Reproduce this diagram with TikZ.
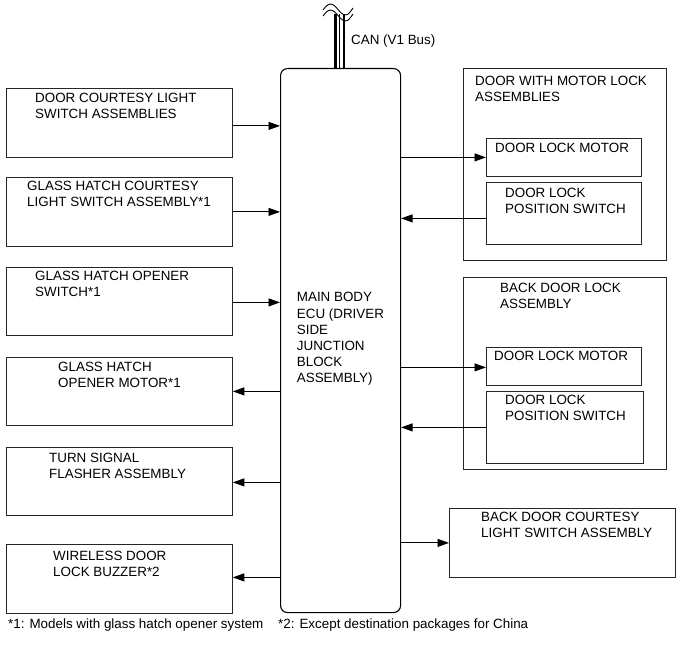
\documentclass[tikz,border=0pt]{standalone}
\usepackage{fontspec}
\setmainfont{Liberation Sans}
\usetikzlibrary{arrows.meta}
\tikzset{
  box/.style={draw=black!85, line width=0.8pt, inner sep=0pt, anchor=north west},
  lbl/.style={anchor=north west, inner sep=0pt, align=left, font=\fontsize{13.4}{16.2}\selectfont},
  arr/.style={line width=0.9pt, -{Triangle[length=11.5pt,width=8pt]}},
  bus/.style={line width=2.6pt},
}
\begin{document}
\begin{tikzpicture}[x=1pt,y=-1pt]
\useasboundingbox (0,0) rectangle (690,660);
% left boxes
\node[box, minimum width=226pt, minimum height=69pt] (b1) at (6,88) {};
\node[box, minimum width=226pt, minimum height=69pt] (b2) at (6,177) {};
\node[box, minimum width=226pt, minimum height=68pt] (b3) at (6,267) {};
\node[box, minimum width=226pt, minimum height=68pt] (b4) at (6,357) {};
\node[box, minimum width=226pt, minimum height=68pt] (b5) at (6,447) {};
\node[box, minimum width=226pt, minimum height=69pt] (b6) at (6,544) {};
\node[lbl] (t1) at (35,92.7) {DOOR COURTESY LIGHT\\SWITCH ASSEMBLIES};
\node[lbl] (t2) at (27,181) {GLASS HATCH COURTESY\\LIGHT SWITCH ASSEMBLY*1};
\node[lbl] (t3) at (35,270.7) {GLASS HATCH OPENER\\SWITCH*1};
\node[lbl] (t4) at (58,361.7) {GLASS HATCH\\OPENER MOTOR*1};
\node[lbl] (t5) at (49,452.7) {TURN SIGNAL\\FLASHER ASSEMBLY};
\node[lbl] (t6) at (53,550.7) {WIRELESS DOOR\\LOCK BUZZER*2};
% ECU
\node[box, draw=black, line width=1.1pt, rounded corners=7pt, minimum width=120pt, minimum height=544pt] (ecu) at (280,68) {};
\node[lbl] (tecu) at (296.7,292.3) {MAIN BODY\\ECU (DRIVER\\SIDE\\JUNCTION\\BLOCK\\ASSEMBLY)};
% bus
\draw[bus] ([xshift=-5pt]ecu.north) -- ++(0,-54);
\draw[line width=1.1pt] ([xshift=-0.8pt]ecu.north) -- ++(0,-54);
\draw[bus] ([xshift=3.3pt]ecu.north) -- ++(0,-54);
\draw[line width=0.9pt] (323,10) sin (330.5,4) cos (338,9.5) sin (345.5,15) cos (353,8);
\draw[line width=0.9pt] (323,16) sin (330.5,10) cos (338,15.5) sin (345.5,21) cos (353,14);
\node[lbl] (can) at (351,35) {CAN (V1 Bus)};
% right group 1
\node[box, minimum width=203pt, minimum height=192pt] (g1) at (463,68) {};
\node[lbl] (tg1) at (475,76) {DOOR WITH MOTOR LOCK\\ASSEMBLIES};
\node[box, minimum width=155pt, minimum height=38pt] (m1) at (486,138) {};
\node[lbl] (tm1) at (495,143) {DOOR LOCK MOTOR};
\node[box, minimum width=155pt, minimum height=62pt] (s1) at (486,182) {};
\node[lbl] (ts1) at (505,188) {DOOR LOCK\\POSITION SWITCH};
% right group 2
\node[box, minimum width=203pt, minimum height=192pt] (g2) at (463,277) {};
\node[lbl] (tg2) at (500,283) {BACK DOOR LOCK\\ASSEMBLY};
\node[box, minimum width=155pt, minimum height=38pt] (m2) at (486,347) {};
\node[lbl] (tm2) at (494,351) {DOOR LOCK MOTOR};
\node[box, minimum width=157pt, minimum height=72pt] (s2) at (486,391) {};
\node[lbl] (ts2) at (505,395) {DOOR LOCK\\POSITION SWITCH};
% back door courtesy
\node[box, minimum width=226pt, minimum height=69pt] (r) at (449,508) {};
\node[lbl] (tr) at (481,512) {BACK DOOR COURTESY\\LIGHT SWITCH ASSEMBLY};
% arrows left
\draw[arr] ([yshift=-3pt]b1.east) -- ([yshift=-3pt]b1.east -| ecu.west);
\draw[arr] (b2.east) -- (b2.east -| ecu.west);
\draw[arr] ([yshift=-1pt]b3.east) -- ([yshift=-1pt]b3.east -| ecu.west);
\draw[arr] (b4.east -| ecu.west) -- (b4.east);
\draw[arr] ([yshift=-1pt]b5.east -| ecu.west) -- ([yshift=-1pt]b5.east);
\draw[arr] ([yshift=1.5pt]b6.east -| ecu.west) -- ([yshift=1.5pt]b6.east);
% arrows right
\draw[arr] (m1.west -| ecu.east) -- (m1.west);
\draw[arr] ([yshift=-5pt]s1.west) -- ([yshift=-5pt]s1.west -| ecu.east);
\draw[arr] ([yshift=-1pt]m2.west -| ecu.east) -- ([yshift=-1pt]m2.west);
\draw[arr] (s2.west) -- (s2.west -| ecu.east);
\draw[arr] (r.west -| ecu.east) -- (r.west);
% footnotes
\node[lbl] (fn1) at (8,619) {*1: Models with glass hatch opener system};
\node[lbl] (fn2) at (278,619) {*2: Except destination packages for China};
\end{tikzpicture}
\end{document}
